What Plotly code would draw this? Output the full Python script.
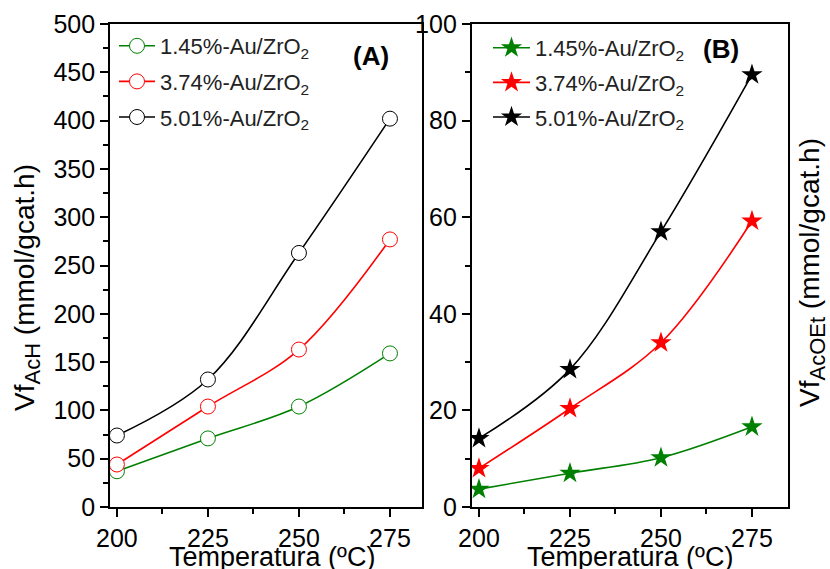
import plotly.graph_objects as go

temps = [200, 225, 250, 275]
series_names = ["1.45%-Au/ZrO<sub>2</sub>", "3.74%-Au/ZrO<sub>2</sub>", "5.01%-Au/ZrO<sub>2</sub>"]
colors = ["#008000", "#ff0000", "#000000"]
acH_145 = [37, 71, 104, 159]
acH_374 = [44, 104, 163, 277]
acH_501 = [74, 132, 263, 402]
acOEt_145 = [3.7, 7.0, 10.2, 16.6]
acOEt_374 = [8.0, 20.4, 34.0, 59.2]
acOEt_501 = [14.2, 28.5, 57.0, 89.5]

W, H = 830, 569
FONT = "Arial, Liberation Sans, sans-serif"

fig = go.Figure()
for i, (name, ys) in enumerate(zip(series_names, [acH_145, acH_374, acH_501])):
    fig.add_trace(go.Scatter(
        x=temps, y=ys, name=name, mode="lines+markers",
        line=dict(color=colors[i], width=1.6, shape="spline", smoothing=1),
        marker=dict(symbol="circle", size=15, color="white",
                    line=dict(color=colors[i], width=1)),
        xaxis="x", yaxis="y", legend="legend", legendgroup="a%d" % i))
for i, (name, ys) in enumerate(zip(series_names, [acOEt_145, acOEt_374, acOEt_501])):
    fig.add_trace(go.Scatter(
        x=temps, y=ys, name=name, mode="lines+markers",
        line=dict(color=colors[i], width=1.6, shape="spline", smoothing=1),
        marker=dict(symbol="star", size=16, color=colors[i], line=dict(width=0)),
        xaxis="x2", yaxis="y2", legend="legend2", legendgroup="b%d" % i))

ydom = [1 - 507 / H, 1 - 24 / H]
axis_common = dict(showline=True, linecolor="black", linewidth=1.8, mirror=True,
                   ticks="outside", ticklen=8, tickwidth=1.5, tickcolor="black",
                   showgrid=False, zeroline=False, automargin=False,
                   tickfont=dict(family=FONT, size=25, color="black"))
xminor = dict(dtick=12.5, ticks="outside", ticklen=5, tickwidth=1.5, tickcolor="black", showgrid=False)

fig.update_layout(
    width=W, height=H, margin=dict(l=0, r=0, t=0, b=0, autoexpand=False),
    paper_bgcolor="white", plot_bgcolor="white",
    font=dict(family=FONT, color="black"),
    xaxis=dict(domain=[110 / W, 422 / W], range=[198.1, 283.8], tickvals=temps,
               minor=xminor, anchor="y", **axis_common),
    yaxis=dict(domain=ydom, range=[0, 500], dtick=50, anchor="x",
               minor=dict(dtick=25, ticks="outside", ticklen=5, tickwidth=1.5,
                          tickcolor="black", showgrid=False), **axis_common),
    xaxis2=dict(domain=[471.7 / W, 788 / W], range=[198.0, 284.9], tickvals=temps,
                minor=xminor, anchor="y2", **axis_common),
    yaxis2=dict(domain=ydom, range=[0, 100], dtick=20, anchor="x2",
                minor=dict(dtick=10, ticks="outside", ticklen=5, tickwidth=1.5,
                           tickcolor="black", showgrid=False), **axis_common),
    legend=dict(x=114 / W, y=1 - 25 / H, xanchor="left", yanchor="top",
                bgcolor="rgba(0,0,0,0)", font=dict(family=FONT, size=22, color="#222"),
                tracegroupgap=4, itemwidth=36),
    legend2=dict(x=488 / W, y=1 - 27 / H, xanchor="left", yanchor="top",
                 bgcolor="rgba(0,0,0,0)", font=dict(family=FONT, size=22, color="#222"),
                 tracegroupgap=3, itemwidth=37),
    showlegend=True,
)

annotations = [
    dict(text="<b>(A)</b>", x=371 / W, y=1 - 56 / H, font=dict(size=26)),
    dict(text="<b>(B)</b>", x=721 / W, y=1 - 49 / H, font=dict(size=26)),
    dict(text="Temperatura (ºC)", x=272 / W, y=1 - 557 / H, font=dict(size=27)),
    dict(text="Temperatura (ºC)", x=630 / W, y=1 - 557 / H, font=dict(size=27)),
    dict(text="Vf<sub><span style='font-size:22px'>AcH</span></sub> (mmol/gcat.h)",
         x=27 / W, y=1 - 288 / H, textangle=-90, font=dict(size=28)),
    dict(text="Vf<sub><span style='font-size:22px'>AcOEt</span></sub> (mmol/gcat.h)",
         x=812 / W, y=1 - 273 / H, textangle=-90, font=dict(size=28)),
]
for a in annotations:
    a.update(xref="paper", yref="paper", showarrow=False, xanchor="center", yanchor="middle")
    a["font"].update(family=FONT, color="black")
fig.update_layout(annotations=annotations)

fig.write_html("out.html")
